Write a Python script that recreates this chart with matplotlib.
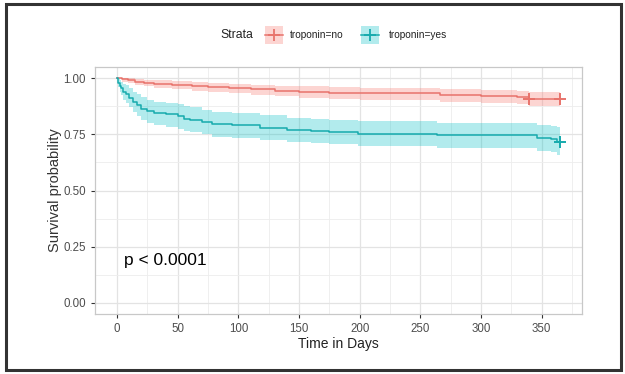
import matplotlib.pyplot as plt
import numpy as np
from matplotlib.patches import Rectangle
from matplotlib.lines import Line2D

plt.rcParams['font.family'] = ['Liberation Sans', 'DejaVu Sans']

# troponin = no
t_no = [0, 4, 9, 15, 22, 30, 45, 62, 75, 92, 110, 130, 150, 175, 200, 266, 300, 330, 340, 365]
s_no = [1.0, .995, .99, .985, .98, .975, .97, .965, .96, .955, .95, .945, .94, .935, .932, .925, .92, .915, .909, .909]
lo_no = [1.0, .985, .978, .97, .963, .956, .95, .944, .938, .932, .926, .92, .914, .908, .904, .896, .89, .884, .878, .878]
hi_no = [1.0, 1.0, 1.0, .997, .994, .99, .987, .983, .979, .975, .971, .967, .963, .959, .957, .951, .947, .943, .938, .938]
cens_no_t = [340, 365]
cens_no_s = [.909, .909]

# troponin = yes
t_yes = [0, 1, 2, 3, 5, 7, 10, 13, 16, 20, 25, 30, 40, 50, 55, 60, 70, 78, 95, 118, 140, 160, 175, 199, 264, 346, 358, 363, 365]
s_yes = [1.0, .98, .965, .955, .94, .93, .91, .895, .88, .865, .855, .845, .84, .83, .82, .815, .805, .795, .79, .78, .77, .765, .76, .753, .745, .735, .728, .718, .718]
lo_yes = [1.0, .96, .94, .925, .905, .89, .87, .85, .83, .815, .80, .79, .785, .775, .765, .76, .75, .74, .735, .725, .715, .71, .705, .697, .69, .678, .67, .66, .66]
hi_yes = [1.0, 1.0, .99, .985, .975, .97, .955, .94, .93, .915, .905, .895, .89, .885, .875, .87, .86, .85, .845, .835, .825, .82, .815, .81, .80, .79, .786, .782, .782]
cens_yes_t = [365]
cens_yes_s = [.718]

labels = ['troponin=no', 'troponin=yes']

red = '#F8766D'
red_line = '#E8736B'
teal = '#00BFC4'
teal_line = '#16AAAD'

W, H = 625, 374
fig = plt.figure(figsize=(6.25, 3.74), dpi=100)
ax = fig.add_axes([0.152, 0.160, 0.779, 0.661])

ax.fill_between(t_no, lo_no, hi_no, step='post', color=red, alpha=0.3, lw=0)
ax.fill_between(t_yes, lo_yes, hi_yes, step='post', color=teal, alpha=0.3, lw=0)
ax.step(t_no, s_no, where='post', color=red_line, lw=1.1)
ax.step(t_yes, s_yes, where='post', color=teal_line, lw=1.1)
ax.plot(cens_no_t, cens_no_s, ls='none', marker='+', ms=8, mew=1.4, color=red_line)
ax.plot(cens_yes_t, cens_yes_s, ls='none', marker='+', ms=8, mew=1.4, color=teal_line)

ax.set_xlim(-18.25, 383.25)
ax.set_ylim(-0.05, 1.05)
ax.set_xticks(np.arange(0, 351, 50))
ax.set_xticks(np.arange(25, 376, 50), minor=True)
ax.set_yticks([0, 0.25, 0.5, 0.75, 1.0])
ax.set_yticks([0.125, 0.375, 0.625, 0.875], minor=True)
ax.set_yticklabels(['0.00', '0.25', '0.50', '0.75', '1.00'])
ax.grid(which='major', color='#E3E3E3', lw=0.9)
ax.grid(which='minor', color='#EDEDED', lw=0.6)
ax.set_axisbelow(True)
ax.tick_params(which='major', length=3, width=0.8, color='#333333',
               labelcolor='#4D4D4D', labelsize=8.3)
ax.tick_params(which='minor', length=0)
for sp in ax.spines.values():
    sp.set_color('#C8C8C8')
    sp.set_linewidth(0.9)

ax.set_xlabel('Time in Days', fontsize=10, color='#222222', labelpad=1)
ax.set_ylabel('Survival probability', fontsize=10.5, color='#333333', labelpad=1)
ax.text(6, 0.19, 'p < 0.0001', fontsize=12.5, va='center', ha='left', color='black')

# legend on top, ggplot style: title at left, keys in a row
def key(x0, fill, line, text, tx):
    yc = 1 - 35 / H
    fig.patches.append(Rectangle((x0 / W, yc - 9 / H), 18 / W, 18 / H,
                                 transform=fig.transFigure, facecolor=fill,
                                 alpha=0.3, lw=0))
    fig.lines.append(Line2D([x0 / W, (x0 + 18) / W], [yc, yc], transform=fig.transFigure,
                            color=line, lw=1.1))
    fig.lines.append(Line2D([(x0 + 9) / W], [yc], transform=fig.transFigure, color=line,
                            marker='+', ms=8, mew=1.3))
    fig.text(tx / W, yc, text, fontsize=7.3, va='center', ha='left', color='#222222')

fig.text(220 / W, 1 - 35 / H, 'Strata', fontsize=8.8, va='center', ha='left', color='#222222')
key(265, red, red_line, labels[0], 290)
key(361, teal, teal_line, labels[1], 389)

# outer frame of the screenshot
fig.patches.append(Rectangle((0.009, 0.011), 0.984, 0.977, transform=fig.transFigure,
                             fill=False, edgecolor='#333333', lw=2.2))

fig.savefig('out.png', dpi=100)
